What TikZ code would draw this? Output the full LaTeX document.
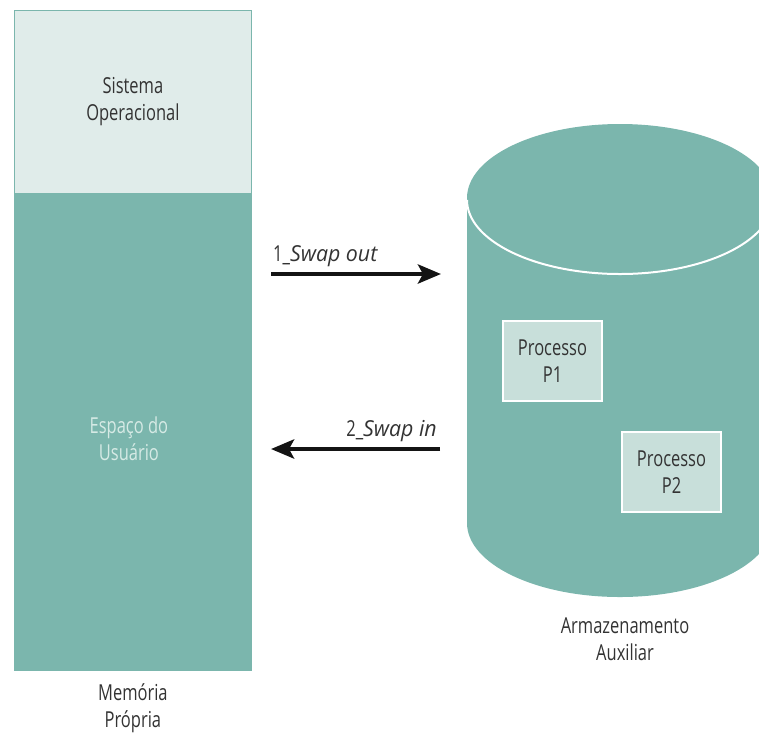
\documentclass[tikz,border=0pt]{standalone}
\usepackage{fontspec}
\setmainfont[FakeStretch=0.75,ItalicFeatures={FakeStretch=0.97}]{Open Sans}
\usepackage{tikz}
\usetikzlibrary{arrows.meta,positioning,calc}
\definecolor{MMteal}{RGB}{123,182,173}
\definecolor{MMpale}{RGB}{224,236,234}
\definecolor{MMproc}{RGB}{200,223,218}
\definecolor{MMtext}{RGB}{51,51,51}
\definecolor{MMlight}{RGB}{214,234,229}
\tikzset{
  block/.style={rectangle,inner sep=0pt,align=center,font=\fontsize{22}{27}\selectfont},
  proc/.style={block,draw=white,line width=1.2pt,fill=MMproc,text=MMtext,
               minimum width=99pt,minimum height=80pt},
  caption/.style={align=center,text=MMtext,font=\fontsize{22}{27}\selectfont},
  swap/.style={-{Stealth[length=23pt,width=19pt,inset=5pt]},line width=4.5pt,draw=MMtext!40!black},
  swaplabel/.style={text=MMtext,inner sep=0pt,font=\fontsize{22}{26}\selectfont}
}

\begin{document}
\begin{tikzpicture}[x=1pt,y=-1pt]
  \useasboundingbox (0,0) rectangle (759,732);
  % memoria propria
  \node[block,draw=MMteal,line width=0.8pt,fill=MMpale,text=MMtext,
        minimum width=237pt,minimum height=183pt,anchor=north west] (so) at (14,10) {Sistema\\Operacional};
  \node[block,fill=MMteal,minimum width=237.8pt,minimum height=477pt,
        anchor=north] (user) at (so.south) {};
  \node[block,text=MMlight] (userlbl) at ([xshift=-4pt,yshift=-6pt]user.center) {Espaço do\\Usuário};
  \node[caption,below=9pt of user] (mem) {Memória\\Própria};
  % armazenamento auxiliar
  \begin{scope}
    \clip (0,0) rectangle (759,732);
    \fill[MMteal] (467,198) rectangle (773,523);
    \fill[MMteal] (620,523) ellipse [x radius=153, y radius=74];
    \fill[MMteal] (620,198) ellipse [x radius=153, y radius=74];
    \draw[white,line width=2pt] (467,200) arc[start angle=180,end angle=0,x radius=153,y radius=74];
  \end{scope}
  \node[proc] (p1) at (552.5,361) {Processo\\P1};
  \node[proc] (p2) at (671.5,472) {Processo\\P2};
  \node[caption] (aux) at (625,639) {Armazenamento\\Auxiliar};
  % swap
  \coordinate (outA) at (271,274);
  \coordinate (outB) at (441,274);
  \coordinate (inA) at (440,449);
  \coordinate (inB) at (271,449);
  \draw[swap] (outA) -- (outB);
  \draw[swap] (inA) -- (inB);
  \node[swaplabel,anchor=base west] (outlbl) at (273,261) {1\_\textit{Swap out}};
  \node[swaplabel,anchor=base east] (inlbl) at (437,436) {2\_\textit{Swap in}};
\end{tikzpicture}
\end{document}
